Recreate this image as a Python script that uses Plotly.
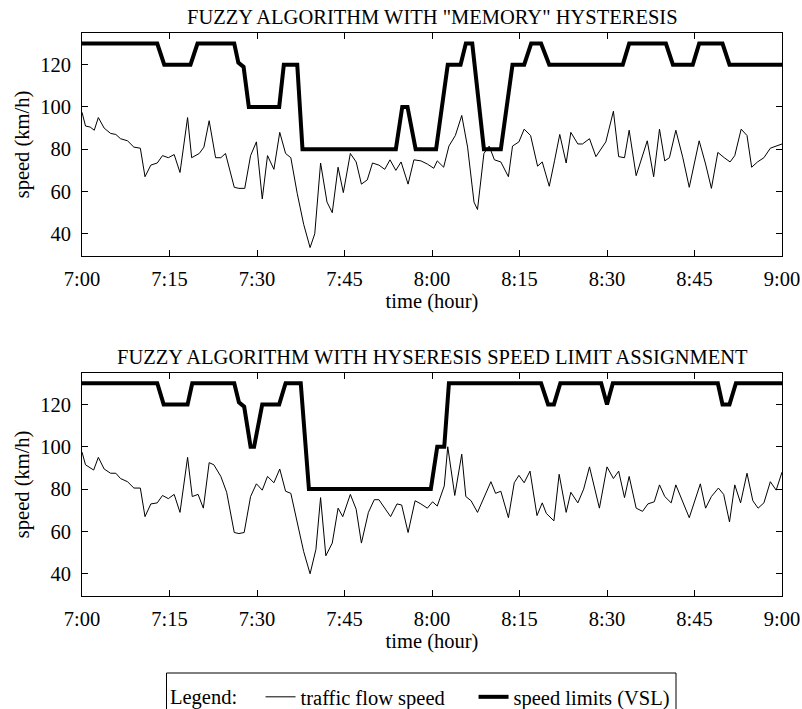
import plotly.graph_objects as go

# ---------------- data (minutes after 7:00) ----------------
tick_vals = [0, 15, 30, 45, 60, 75, 90, 105, 120]
tick_text = ["7:00", "7:15", "7:30", "7:45", "8:00", "8:15", "8:30", "8:45", "9:00"]
y_tick_vals = [40, 60, 80, 100, 120]

top_title = 'FUZZY ALGORITHM WITH "MEMORY" HYSTERESIS'
bottom_title = "FUZZY ALGORITHM WITH HYSERESIS SPEED LIMIT ASSIGNMENT"

top_flow_t = [0, 0.6, 1.4, 2.1, 2.8, 3.8, 4.9, 5.8, 6.6, 7.8,
              8.9, 10.0, 10.8, 11.8, 12.9, 13.8, 14.8, 15.8, 16.8, 18.1,
              18.8, 20.1, 20.9, 21.8, 22.9, 23.8, 24.6, 26.1, 26.9, 27.9,
              28.9, 29.9, 30.9, 31.8, 32.9, 33.9, 34.9, 35.8, 36.9, 38.0,
              39.1, 39.9, 40.9, 42.0, 42.9, 43.9, 44.8, 46.0, 47.0, 47.9,
              48.9, 49.8, 50.9, 51.9, 52.8, 53.8, 54.7, 55.9, 56.9, 58.1,
              59.2, 60.3, 60.9, 62.0, 62.9, 64.0, 65.1, 66.1, 67.2, 67.8,
              68.9, 69.8, 70.7, 71.8, 73.1, 73.8, 74.9, 75.8, 76.9, 78.1,
              78.9, 80.1, 81.0, 81.9, 83.0, 83.8, 85.0, 85.8, 87.0, 88.1,
              89.8, 91.1, 92.0, 93.0, 93.8, 95.0, 96.9, 98.0, 99.0, 99.9,
              100.7, 101.8, 103.0, 104.1, 105.8, 106.9, 107.9, 109.0, 110.1, 111.1,
              111.9, 113.0, 114.0, 114.8, 115.8, 116.9, 118.0, 119.0, 120.0]
top_flow_v = [97.5, 91, 90.5, 89, 95, 90, 87.5, 87, 85, 84,
              81, 80.5, 67, 72.5, 73.5, 77, 76, 77.5, 69, 95,
              76, 78, 81, 93.5, 76, 76, 78, 62, 61.5, 61.5,
              77, 83.5, 56.5, 77, 70.5, 88, 78, 76, 59, 44.5,
              33.5, 40, 73.5, 55, 50, 71.5, 59.5, 78, 74, 63.5,
              65.5, 73.5, 72.5, 70.5, 75, 70, 74, 63.5, 75, 74.5,
              73, 71, 74.5, 71.5, 81.5, 86.5, 96, 81, 55, 51.5,
              78, 81.5, 75, 74, 67, 81.5, 83.5, 89.5, 86.5, 72,
              74, 62.5, 74.5, 87, 73.5, 88, 82.5, 82.5, 85, 76.5,
              83.5, 98, 76.5, 76, 89, 67.5, 84, 67, 89.5, 74.5,
              76, 89, 76, 62, 84, 73, 61.5, 78.5, 76, 74,
              77, 89.5, 86.5, 71.5, 74, 76, 80.5, 81.5, 82.5]

top_vsl_t = [0, 12.9, 14.1, 18.6, 19.8, 26.1, 26.8, 27.7, 28.6, 33.8,
             34.6, 36.9, 37.8, 53.8, 54.9, 55.8, 57.2, 60.7, 62.7, 64.9,
             65.8, 66.9, 68.9, 71.8, 73.8, 75.8, 77.0, 78.7, 80.1, 92.7,
             93.8, 100.1, 101.3, 104.7, 105.8, 109.8, 111.0, 120]
top_vsl_v = [130, 130, 120, 120, 130, 130, 121, 119, 100, 100,
             120, 120, 80, 80, 100, 100, 80, 80, 120, 120,
             130, 130, 80, 80, 120, 120, 130, 130, 120, 120,
             130, 130, 120, 120, 130, 130, 120, 120]

bot_flow_t = [0, 0.6, 2.0, 2.8, 3.8, 4.9, 5.8, 6.6, 7.8, 8.9,
              10.0, 10.8, 11.8, 12.9, 13.8, 14.8, 15.8, 16.8, 18.1, 18.9,
              19.9, 20.8, 21.8, 22.6, 23.8, 24.8, 26.1, 26.9, 27.8, 28.9,
              29.9, 30.9, 31.8, 32.9, 33.9, 34.9, 35.8, 36.9, 38.0, 39.1,
              40.1, 40.9, 41.8, 42.9, 43.9, 44.7, 46.0, 47.0, 47.9, 49.1,
              50.1, 50.9, 51.9, 52.9, 54.0, 54.8, 55.9, 57.1, 58.1, 59.2,
              60.1, 60.9, 62.1, 62.7, 63.9, 65.1, 65.8, 66.7, 67.8, 68.9,
              70.1, 70.9, 71.8, 73.1, 74.1, 74.9, 75.8, 76.8, 78.0, 78.9,
              79.6, 80.9, 81.8, 83.0, 83.8, 85.0, 86.0, 87.0, 88.7, 90.0,
              91.1, 92.0, 93.0, 93.8, 95.0, 96.1, 97.0, 98.1, 99.0, 99.9,
              101.0, 101.8, 103.0, 104.1, 106.0, 106.9, 107.9, 109.1, 110.0, 111.0,
              111.9, 112.9, 114.0, 115.0, 115.9, 116.9, 118.0, 119.0, 120.0]
bot_flow_v = [97.5, 91.5, 89, 95, 89.5, 87.5, 87.5, 85, 83.5, 80.5,
              80.5, 67, 73, 73.5, 77, 75.5, 77.5, 69, 95, 76.5,
              77.5, 71, 92.5, 91.5, 86, 78.5, 59.5, 59, 59.5, 76.5,
              82.5, 79.5, 86, 83, 89.5, 79, 78, 64, 50.5, 40,
              51.5, 76, 48.5, 54.5, 71, 67, 77.5, 70.5, 54.5, 69,
              75, 75, 71, 67, 73, 72.5, 59.5, 74.5, 73, 71,
              74, 72, 81.5, 100, 77, 96.5, 76.5, 74.5, 69, 76,
              83.5, 78, 79, 66.5, 83, 86.5, 83, 88.5, 67.5, 73.5,
              68.5, 65, 87, 69, 78.5, 73.5, 80, 90.5, 71, 90.5,
              85, 88.5, 76, 86, 71, 69.5, 73, 74, 82, 76.5,
              73.5, 82, 73.5, 66.5, 82.5, 71, 76.5, 80.5, 77.5, 64.5,
              82, 73.5, 87.5, 74.5, 71, 73.5, 83.5, 79.5, 88]

bot_vsl_t = [0, 12.9, 14.0, 18.1, 18.9, 26.1, 26.9, 27.8, 28.9, 29.5,
             30.9, 33.8, 34.9, 37.5, 38.9, 59.8, 60.9, 62.1, 62.9, 78.7,
             79.9, 80.9, 82.0, 89.0, 90.0, 91.0, 109.0, 109.8, 111.0, 112.1,
             120]
bot_vsl_v = [130, 130, 120, 120, 130, 130, 121, 119, 100, 100,
             120, 120, 130, 130, 80, 80, 100, 100, 130, 130,
             120, 120, 130, 130, 120, 130, 130, 120, 120, 130,
             130]

# ---------------- figure ----------------
FONT = "Liberation Serif"
FS = 20.5
W, H = 802, 709
ML, MR, MT, MB = 82, 20, 33, 113
PW, PH = W - ML - MR, H - MT - MB


def py(px):  # pixel y from top -> paper y
    return (H - MB - px) / PH


def pxx(px):  # pixel x -> paper x
    return (px - ML) / PW


fig = go.Figure()
fig.add_trace(go.Scatter(x=top_flow_t, y=top_flow_v, mode="lines",
                         line=dict(color="black", width=1),
                         name="traffic flow speed", legendgroup="flow",
                         xaxis="x", yaxis="y"))
fig.add_trace(go.Scatter(x=top_vsl_t, y=top_vsl_v, mode="lines",
                         line=dict(color="black", width=4),
                         name="speed limits (VSL)", legendgroup="vsl",
                         xaxis="x", yaxis="y"))
fig.add_trace(go.Scatter(x=bot_flow_t, y=bot_flow_v, mode="lines",
                         line=dict(color="black", width=1),
                         name="traffic flow speed", legendgroup="flow",
                         showlegend=False, xaxis="x2", yaxis="y2"))
fig.add_trace(go.Scatter(x=bot_vsl_t, y=bot_vsl_v, mode="lines",
                         line=dict(color="black", width=4),
                         name="speed limits (VSL)", legendgroup="vsl",
                         showlegend=False, xaxis="x2", yaxis="y2"))

axis_common = dict(showline=True, linecolor="black", linewidth=1, mirror="ticks",
                   ticks="inside", ticklen=6, tickwidth=1, tickcolor="black",
                   showgrid=False, zeroline=False,
                   tickfont=dict(family=FONT, size=FS, color="black"))

xcommon = dict(axis_common, range=[0, 120], tickmode="array",
               tickvals=tick_vals, ticktext=tick_text, ticklabelstandoff=4,
               title=dict(text="time (hour)", font=dict(family=FONT, size=FS, color="black"),
                          standoff=2))
ycommon = dict(axis_common, range=[29.5, 135], tickmode="array",
               tickvals=y_tick_vals, ticklabelstandoff=6,
               title=dict(text="speed (km/h)", font=dict(family=FONT, size=FS, color="black"),
                          standoff=4))

top_dom = [py(256), 1.0]
bot_dom = [0.0, py(372.7)]

fig.update_layout(
    width=W, height=H,
    margin=dict(l=ML, r=MR, t=MT, b=MB, autoexpand=False),
    paper_bgcolor="white", plot_bgcolor="white",
    font=dict(family=FONT, size=FS, color="black"),
    xaxis=dict(xcommon, domain=[0, 1], anchor="y"),
    yaxis=dict(ycommon, domain=top_dom, anchor="x"),
    xaxis2=dict(xcommon, domain=[0, 1], anchor="y2"),
    yaxis2=dict(ycommon, domain=bot_dom, anchor="x2"),
    showlegend=True,
    legend=dict(orientation="h", x=pxx(168), y=py(697), xanchor="left", yanchor="middle",
                title=dict(text="Legend:" + "\u00a0" * 3, side="left",
                           font=dict(family=FONT, size=FS, color="black")),
                font=dict(family=FONT, size=FS, color="black"),
                bgcolor="rgba(0,0,0,0)", borderwidth=0, itemwidth=30,
                entrywidth=168, entrywidthmode="pixels"),
    annotations=[
        dict(text=top_title, x=0.5, y=py(17), xref="paper", yref="paper",
             xanchor="center", yanchor="middle", showarrow=False,
             font=dict(family=FONT, size=FS, color="black")),
        dict(text=bottom_title, x=0.5, y=py(357), xref="paper", yref="paper",
             xanchor="center", yanchor="middle", showarrow=False,
             font=dict(family=FONT, size=FS, color="black")),
    ],
    shapes=[dict(type="rect", xref="paper", yref="paper",
                 x0=pxx(166.5), x1=pxx(676), y0=py(673), y1=py(730),
                 line=dict(color="black", width=1), fillcolor="rgba(0,0,0,0)")],
)

fig.write_html("out.html")
